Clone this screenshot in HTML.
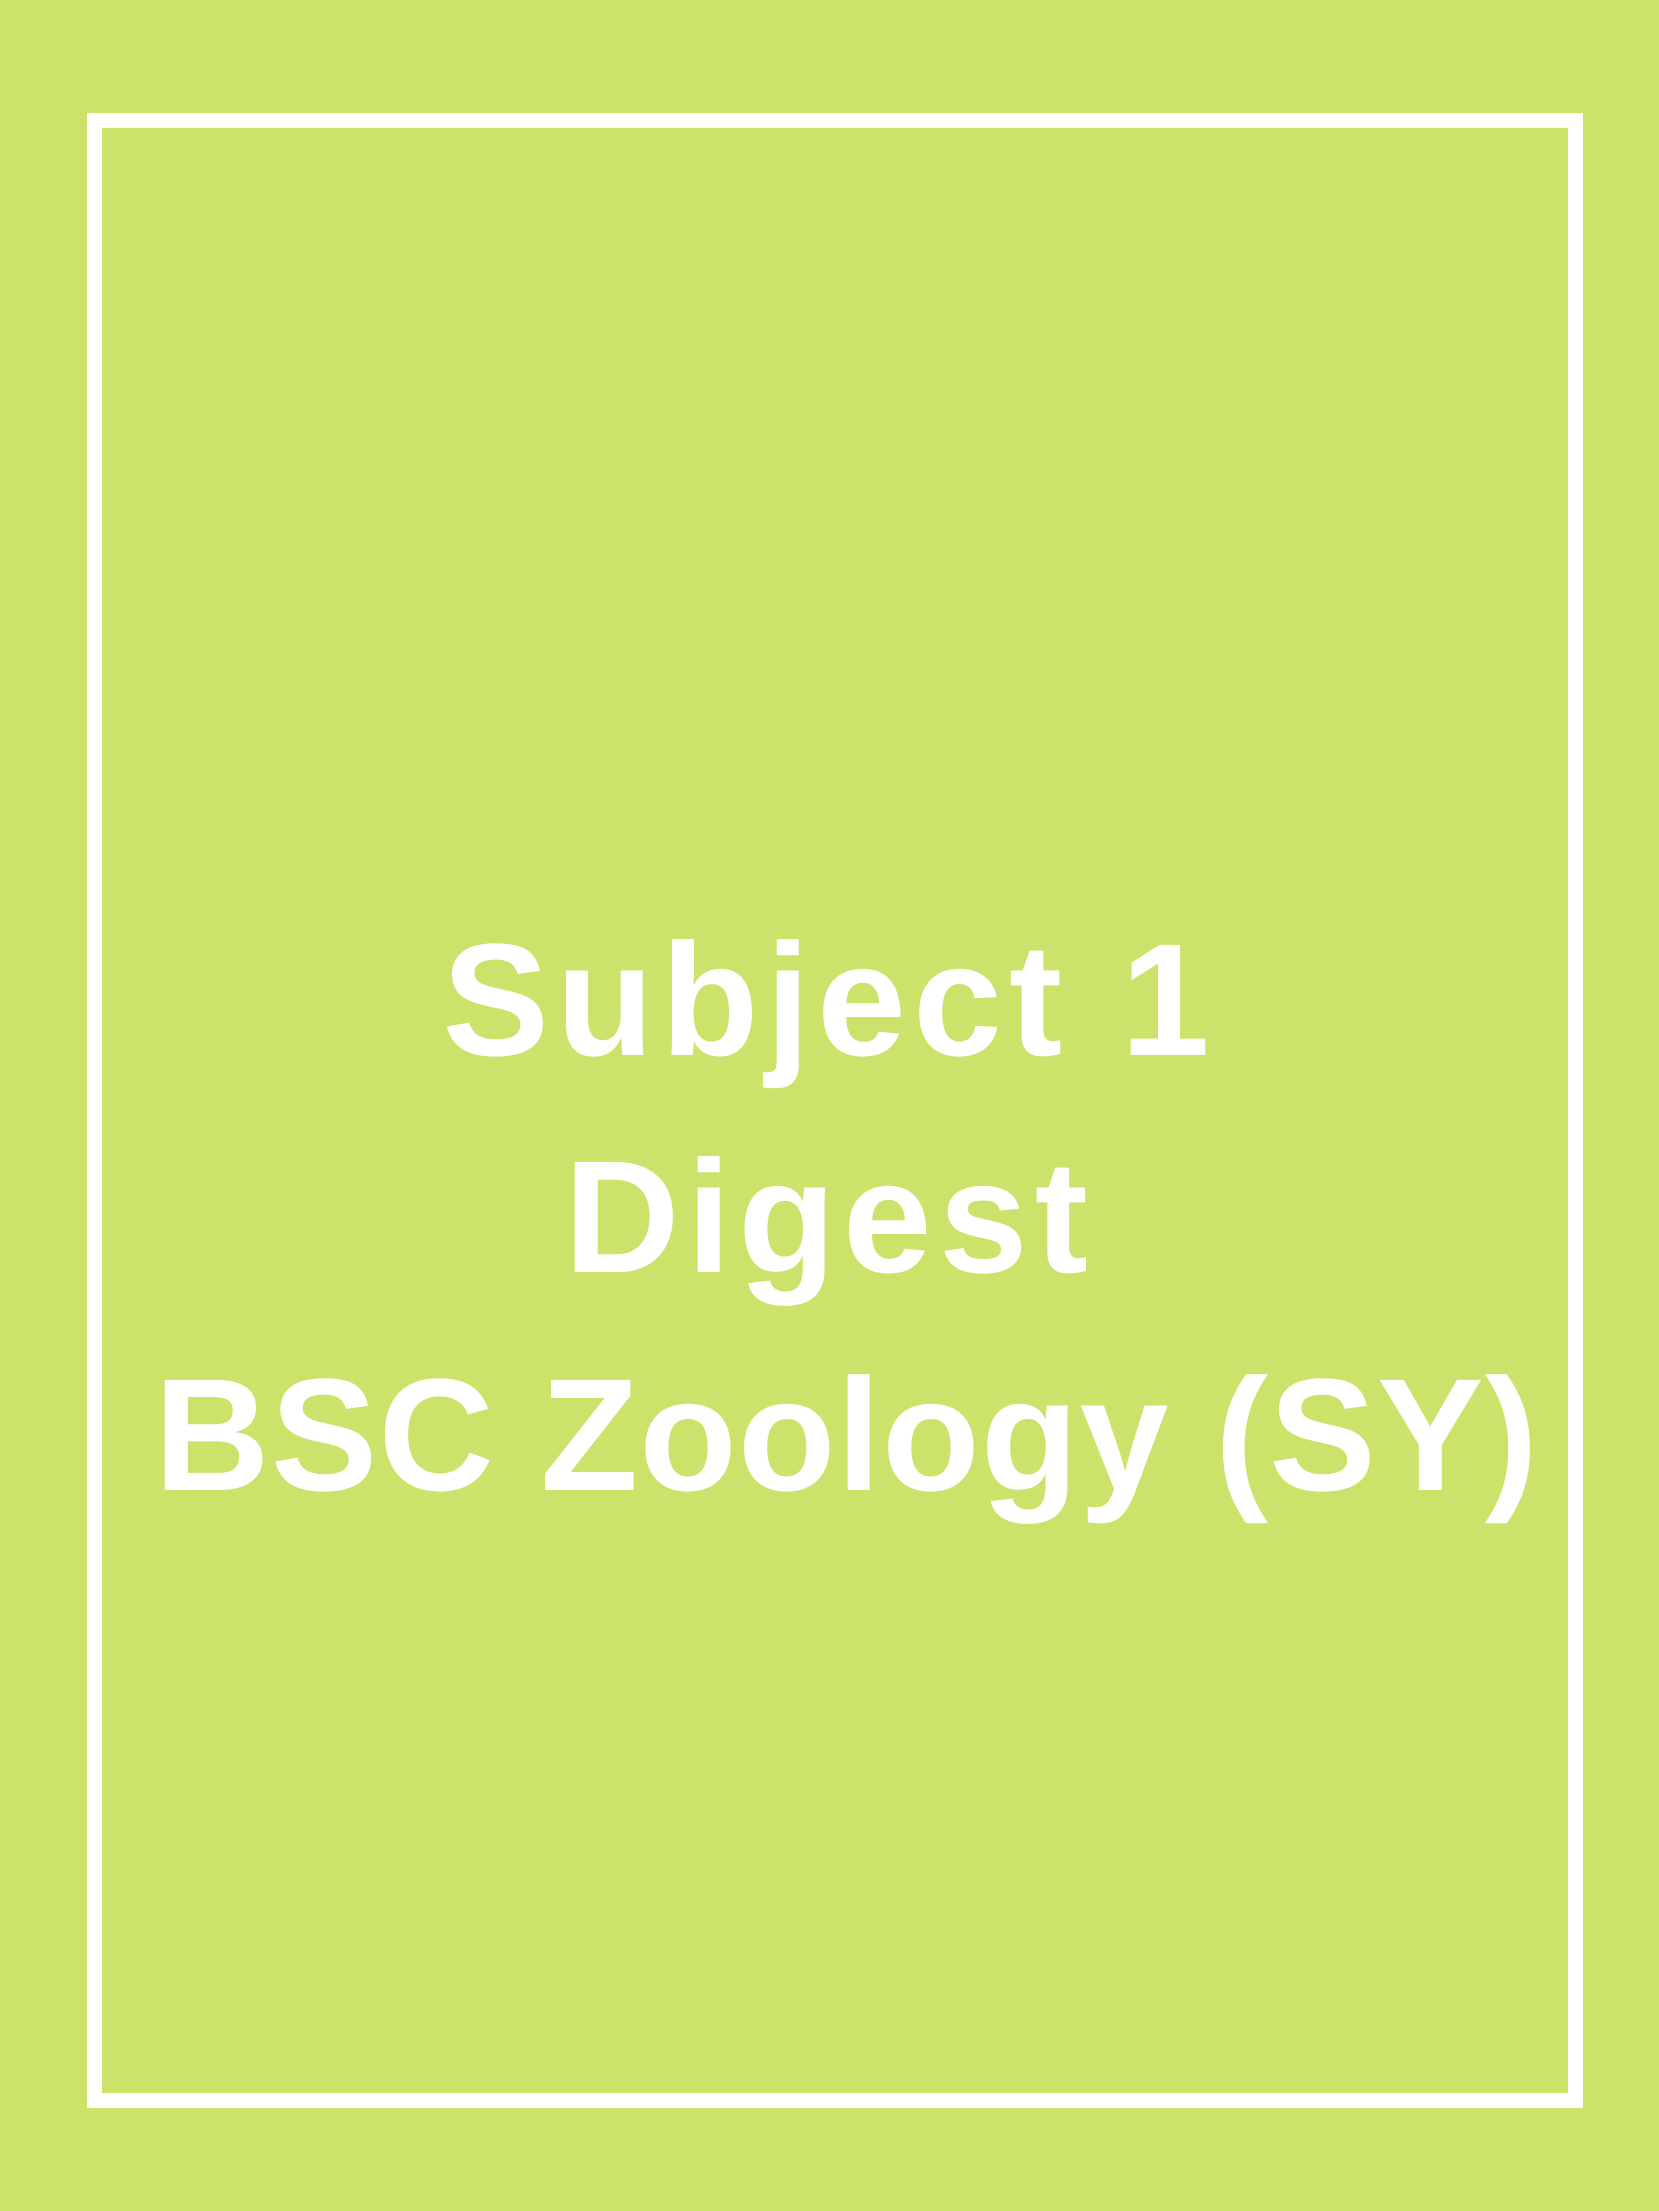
<!DOCTYPE html>
<html>
<head>
<meta charset="utf-8">
<style>
  html,body{margin:0;padding:0;}
  body{width:1659px;height:2211px;background:#cbe36b;position:relative;overflow:hidden;
    font-family:"Liberation Sans",sans-serif;}
  .frame{position:absolute;left:87px;top:113px;width:1496px;height:1995px;
    box-sizing:border-box;border:15px solid #ffffff;}
  .line{position:absolute;left:0;width:1659px;text-align:center;color:#fff;
    font-weight:bold;font-size:160px;line-height:160px;white-space:pre;letter-spacing:7px;}
</style>
</head>
<body>
  <div class="frame"></div>
  <div class="line" style="top:920px">Subject 1</div>
  <div class="line" style="top:1137px">Digest</div>
  <div class="line" style="top:1355px;left:17px;letter-spacing:1px">BSC Zoology (SY)</div>
</body>
</html>
